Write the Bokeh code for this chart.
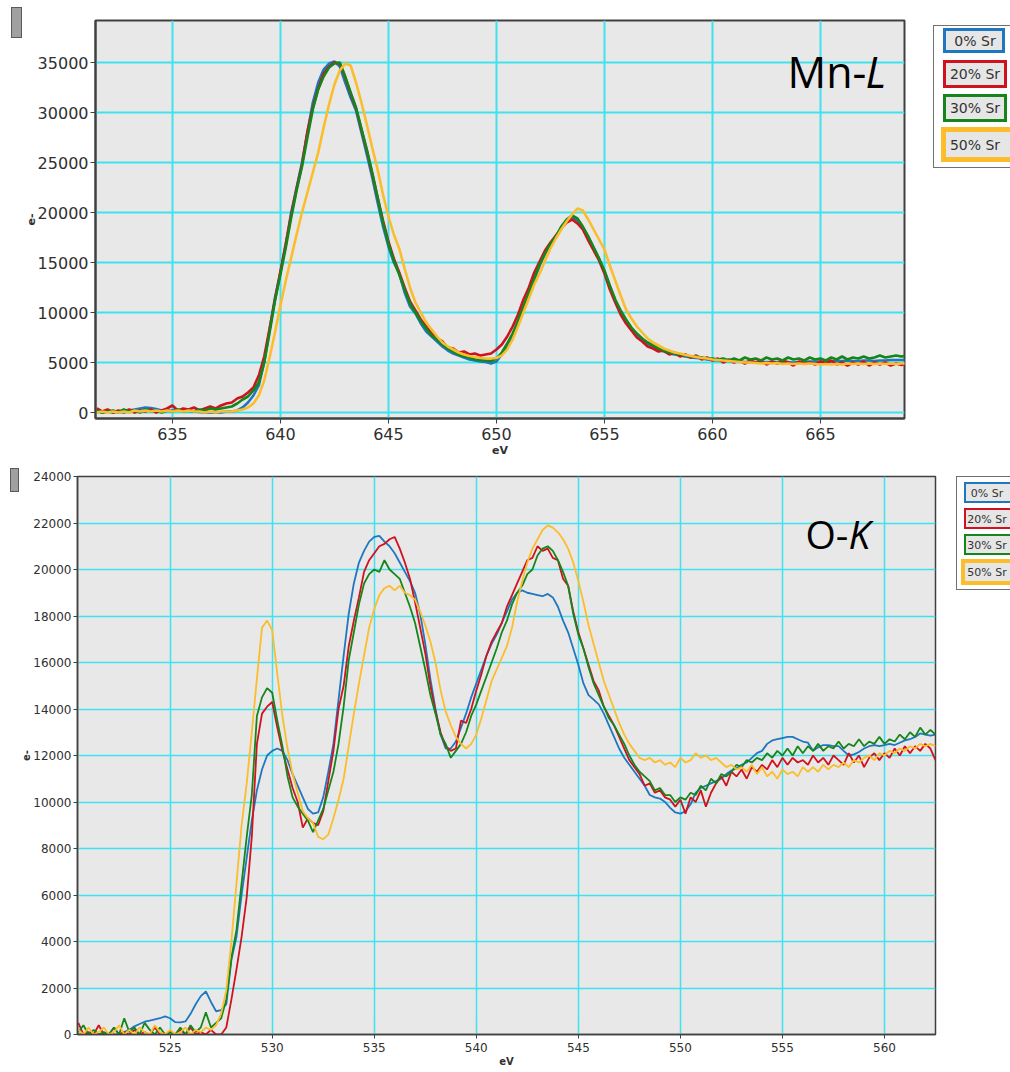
import numpy as np
from bokeh.plotting import figure
from bokeh.models import (FixedTicker, Label, Range1d, BasicTickFormatter, Div)
from bokeh.layouts import column, row
from bokeh.embed import file_html
from bokeh.resources import INLINE

# ---------------------------------------------------------------- data
series_names = ["0% Sr", "20% Sr", "30% Sr", "50% Sr"]
series_colors = ["#1f77c0", "#d0121e", "#14861a", "#fbbd2b"]

# Mn-L edge, sampled every 0.25 eV starting at 631.5 eV
mn_start, mn_step = 631.5, 0.25
mn_sr0 = [100, 0,
          100, 0, 100, 0,
          200, 300, 400, 500,
          450, 350, 200, 150,
          200, 250, 200, 150,
          100, 50, 0, 0,
          0, 0, 100, 100,
          200, 500, 1000, 1700,
          2700, 5000, 8300, 11500,
          14000, 16800, 20000, 22500,
          25000, 28000, 31000, 33000,
          34300, 34900, 35100, 34600,
          33000, 31500, 30200, 28000,
          25800, 23500, 21000, 18600,
          16600, 15000, 13900, 12000,
          10600, 9900, 8900, 8100,
          7600, 7100, 6600, 6200,
          5900, 5700, 5500, 5300,
          5200, 5100, 5050, 4900,
          5100, 5800, 6700, 7700,
          9000, 10500, 11900, 13300,
          14700, 15900, 16800, 17500,
          18500, 19100, 19500, 19200,
          18500, 17600, 16500, 15400,
          14100, 12600, 11200, 10100,
          9200, 8400, 7800, 7300,
          6900, 6600, 6300, 6100,
          5900, 5800, 5700, 5600,
          5500, 5450, 5400, 5300,
          5250, 5200, 5200, 5150,
          5100, 5100, 5050, 5050,
          5050, 5000, 5050, 5050,
          5050, 5100, 5050, 5000,
          5050, 5050, 5100, 5100,
          5100, 5100, 5100, 5150,
          5150, 5200, 5150, 5150,
          5200, 5200, 5150, 5200,
          5200, 5250, 5250, 5250,
          5250]
mn_sr20 = [400, 100,
           300, 0, 200, 100,
           300, 0, 200, 100,
           300, 0, 200, 400,
           700, 200, 400, 300,
           500, 200, 400, 600,
           400, 700, 900, 1000,
           1400, 1600, 2000, 2500,
           3700, 5600, 8400, 11300,
           14100, 16900, 19800, 22400,
           24800, 28100, 30500, 32400,
           33900, 34600, 35000, 34900,
           33500, 31900, 30400, 28300,
           26200, 23900, 21500, 19200,
           17100, 15400, 14000, 12500,
           11100, 10200, 9300, 8600,
           7900, 7400, 7100, 6500,
           6400, 6000, 6100, 5800,
           5900, 5700, 5800, 5900,
           6300, 6800, 7600, 8600,
           9800, 11300, 12500, 14000,
           15100, 16200, 17000, 17700,
           18400, 19000, 19300, 18900,
           18300, 17200, 16200, 15200,
           13900, 12300, 11000, 9800,
           8900, 8200, 7500, 7100,
           6600, 6400, 6100, 6200,
           5800, 6000, 5600, 5800,
           5500, 5700, 5300, 5500,
           5200, 5400, 5000, 5300,
           5000, 5200, 4900, 5200,
           5000, 5200, 4800, 5100,
           4900, 5200, 5000, 4700,
           5100, 4900, 5000, 4800,
           5100, 4900, 5200, 4800,
           5000, 4700, 5000, 4800,
           5100, 4700, 5000, 4800,
           5000, 4700, 4900, 4750,
           4900]
mn_sr30 = [200, 0,
           100, 200, 0, 300,
           100, 200, 0, 300,
           100, 200, 0, 200,
           100, 300, 100, 200,
           100, 300, 200, 400,
           300, 400, 500, 600,
           900, 1300, 1600, 2200,
           3000, 5000, 8000, 11200,
           13800, 16500, 19500, 22200,
           24600, 27500, 30300, 32300,
           33600, 34500, 34900, 35000,
           33600, 32000, 30500, 28400,
           26300, 24000, 21500, 19000,
           16900, 15200, 13800, 12300,
           10900, 10000, 9100, 8400,
           7700, 7300, 6800, 6400,
           6100, 5800, 5600, 5500,
           5300, 5250, 5200, 5150,
           5400, 6000, 6900, 7900,
           9200, 10600, 12000, 13400,
           14800, 15900, 16900, 17600,
           18600, 19300, 19700, 19400,
           18600, 17600, 16500, 15400,
           14200, 12700, 11300, 10200,
           9300, 8500, 7900, 7400,
           7000, 6700, 6400, 6200,
           6000, 5900, 5800, 5700,
           5600, 5600, 5500, 5400,
           5400, 5300, 5400, 5200,
           5400, 5200, 5500, 5300,
           5400, 5200, 5500, 5300,
           5400, 5200, 5500, 5300,
           5400, 5200, 5500, 5300,
           5400, 5200, 5500, 5300,
           5600, 5300, 5500, 5400,
           5600, 5400, 5500, 5700,
           5500, 5600, 5700, 5600,
           5700]
mn_sr50 = [0, 100,
           0, 100, 0, 100,
           0, 200, 100, 200,
           100, 200, 100, 200,
           100, 200, 100, 200,
           100, 100, 0, 100,
           0, 100, 100, 100,
           200, 300, 500, 900,
           1700, 3200, 5500, 8000,
           10700, 13200, 15500, 17800,
           20000, 22000, 24000, 26000,
           28500, 30800, 32800, 34200,
           34900, 34700, 33000, 31000,
           28800, 26500, 24300, 21800,
           19600, 17800, 16400, 14400,
           12500, 11000, 10000, 9000,
           8300, 7600, 7000, 6600,
           6300, 6000, 5800, 5650,
           5550, 5450, 5400, 5400,
           5450, 5700, 6300, 7300,
           8600, 10000, 11400, 12800,
           13900, 15200, 16400, 17400,
           18300, 19100, 19800, 20400,
           20200, 19300, 18300, 17300,
           16300, 14700, 13200, 11700,
           10300, 9400, 8600, 8000,
           7400, 7000, 6700, 6400,
           6200, 6000, 5900, 5750,
           5650, 5550, 5450, 5400,
           5300, 5250, 5200, 5150,
           5100, 5050, 5000, 5000,
           4950, 4900, 4950, 4900,
           4950, 4850, 4900, 4850,
           4900, 4850, 4900, 4850,
           4800, 4850, 4800, 4850,
           4800, 4900, 4850, 4900,
           4850, 4900, 4850, 4900,
           4850, 4900, 4850, 4900,
           4900]

# O-K edge, sampled every 0.25 eV starting at 520.5 eV
ok_start, ok_step = 520.5, 0.25
ok_sr0 = [0, 0,
          0, 0, 0, 0,
          0, 0, 0, 100,
          200, 350, 450, 550,
          600, 650, 700, 780,
          700, 530, 520, 560,
          890, 1300, 1650, 1850,
          1400, 1000, 1050, 1300,
          3200, 4200, 6000, 7600,
          9200, 10500, 11400, 12000,
          12200, 12300, 12200, 11800,
          11200, 10700, 10200, 9700,
          9500, 9550, 10200, 11300,
          12500, 14400, 16300, 18100,
          19400, 20300, 20800, 21200,
          21400, 21450, 21200, 21000,
          20700, 20300, 19900, 19500,
          19000, 18100, 16800, 15300,
          14000, 12900, 12300, 12300,
          12600, 13200, 13800, 14500,
          15100, 15700, 16300, 16800,
          17200, 17700, 18200, 18700,
          19000, 19100, 19000, 18950,
          18900, 18850, 18950, 18800,
          18400, 17800, 17300, 16600,
          15900, 15100, 14600, 14400,
          14200, 13800, 13300, 12800,
          12300, 11900, 11600, 11300,
          11000, 10700, 10300, 10200,
          10150, 10000, 9750, 9550,
          9500, 9600, 9900, 10400,
          10600, 10700, 10800, 10900,
          11000, 11200, 11350, 11450,
          11600, 11700, 11900, 12100,
          12200, 12500, 12650, 12700,
          12750, 12800, 12800, 12700,
          12600, 12550, 12200, 12350,
          12450, 12450, 12400, 12400,
          12200, 12000, 12050, 12150,
          12300, 12400, 12450, 12400,
          12450, 12500, 12450, 12550,
          12650, 12700, 12800, 12950,
          12900, 12850, 12900]
ok_sr20 = [500, 0,
           100, 0, 400, 0,
           0, 300, 0, 100,
           0, 200, 0, 100,
           0, 300, 0, 0,
           100, 0, 200, 0,
           300, 0, 100, 0,
           200, 0, 0, 300,
           1500, 2800, 4200, 5900,
           8500, 12500, 13800, 14100,
           14300, 13200, 12200, 11400,
           10600, 10000, 8900, 9300,
           9100, 9000, 9600, 10900,
           12200, 14000, 15000, 16700,
           17800, 18800, 19900, 20400,
           20700, 21000, 21100, 21300,
           21400, 20900, 20300, 19600,
           18600, 17500, 16400, 15000,
           13900, 13000, 12400, 12200,
           12300, 13500, 13400, 14000,
           14800, 15500, 16300, 16900,
           17300, 17700, 18400, 18900,
           19400, 19900, 20400, 20500,
           21000, 20800, 20900, 20500,
           20400, 19600, 19300, 18200,
           17300, 16600, 15900, 15200,
           14800, 14100, 13700, 13300,
           12800, 12300, 11800, 11500,
           11200, 10700, 10800, 10400,
           10500, 10200, 10100, 9800,
           10100, 9500, 10200, 10000,
           10500, 9800, 10400, 10800,
           11100, 10700, 11300, 11100,
           11400, 11000, 11500, 11300,
           11600, 11400, 11800, 11500,
           11900, 11600, 11900, 11700,
           11800, 11600, 12000, 11700,
           11900, 11600, 12000, 11800,
           11600, 12100, 11700, 12000,
           11500, 11900, 12100, 11800,
           12100, 11900, 12300, 12000,
           12400, 12100, 12400, 12200,
           12500, 12300, 11800]
ok_sr30 = [100, 400,
           0, 200, 0, 100,
           0, 300, 0, 700,
           100, 300, 0, 500,
           200, 0, 300, 0,
           100, 0, 300, 0,
           400, 100, 300, 950,
           300, 500, 700, 1500,
           3300, 4500, 6500, 8500,
           10300, 13700, 14500, 14900,
           14700, 13500, 12400, 11100,
           10200, 9800, 9500, 9200,
           8700, 9200, 9700, 10500,
           11300, 12500, 14100, 16100,
           17300, 18500, 19400, 19800,
           20000, 19900, 20400, 20000,
           19800, 19600, 19000, 18400,
           17700, 16700, 15700, 14600,
           13800, 12900, 12500, 11900,
           12200, 12500, 13000, 13700,
           14200, 14800, 15400, 16000,
           16600, 17300, 17800, 18500,
           19000, 19300, 19800, 20000,
           20600, 20900, 21000, 20800,
           20400, 19900, 19300, 18100,
           17200, 16600, 15800, 15100,
           14600, 14100, 13600, 13300,
           12900, 12500, 12000, 11600,
           11300, 11100, 10900, 10500,
           10600, 10300, 10300, 10000,
           10200, 10100, 10400, 10300,
           10700, 10500, 11000, 10800,
           11200, 11100, 11300, 11600,
           11500, 11800, 11700, 11900,
           11800, 12100, 11900, 12200,
           12000, 12300, 12000, 12400,
           12100, 12400, 12200, 12500,
           12200, 12400, 12300, 12600,
           12300, 12500, 12400, 12700,
           12400, 12600, 12500, 12800,
           12500, 12700, 12600, 12900,
           12700, 13000, 12800, 13200,
           12900, 13100, 12900]
ok_sr50 = [200, 0,
           300, 0, 100, 300,
           0, 100, 400, 0,
           200, 0, 300, 100,
           0, 400, 100, 0,
           200, 0, 100, 300,
           0, 200, 100, 300,
           200, 400, 900, 1900,
           4000, 6500, 9000, 10800,
           13000, 15300, 17500, 17800,
           17400, 15500, 13700, 12300,
           11200, 10400, 9600, 9300,
           9100, 8500, 8400, 8600,
           9300, 10100, 11000, 12400,
           13800, 15100, 16300, 17500,
           18300, 18900, 19200, 19300,
           19100, 19300, 19000, 18900,
           18700, 18200, 17600, 16900,
           16000, 14800, 13900, 13300,
           12800, 12500, 12300, 12500,
           12900, 13600, 14400, 15200,
           15700, 16200, 16700, 17500,
           18600, 19500, 20300, 20900,
           21300, 21700, 21900, 21800,
           21600, 21300, 20900, 20300,
           19500, 18600, 17600, 16800,
           16000, 15200, 14600, 14000,
           13400, 12900, 12500, 12200,
           11900, 11800, 11900, 11700,
           11800, 11600, 11700, 11500,
           11900, 11700, 11800, 12100,
           11900, 12000, 11800, 11900,
           11700, 11500, 11600, 11400,
           11500, 11300, 11600, 11200,
           11500, 11100, 11300, 11000,
           11400, 11200, 11300, 11100,
           11500, 11300, 11500, 11300,
           11600, 11400, 11600, 11500,
           11700, 11500, 11800, 11700,
           11900, 12000, 11800, 12100,
           12000, 12200, 12100, 12300,
           12200, 12400, 12300, 12500,
           12400, 12500, 12400]

mn_ticks_x = [635, 640, 645, 650, 655, 660, 665]
mn_ticks_y = [0, 5000, 10000, 15000, 20000, 25000, 30000, 35000]
ok_ticks_x = [525, 530, 535, 540, 545, 550, 555, 560]
ok_ticks_y = [0, 2000, 4000, 6000, 8000, 10000, 12000, 14000, 16000,
              18000, 20000, 22000, 24000]

mn_series = [mn_sr0, mn_sr20, mn_sr30, mn_sr50]
ok_series = [ok_sr0, ok_sr20, ok_sr30, ok_sr50]
for s in mn_series:
    assert len(s) == len(mn_sr0), len(s)
for s in ok_series:
    assert len(s) == len(ok_sr0), len(s)

mn_energy = mn_start + mn_step * np.arange(len(mn_sr0))
ok_energy = ok_start + ok_step * np.arange(len(ok_sr0))

# ---------------------------------------------------------------- styling
GRID = "#3fe3ef"
AXIS = "#404040"
PLOTBG = "#e8e8e8"
FONT = "DejaVu Sans"


def style_axes(p, tick_px, lab_px, grid_w, axis_w, tick_out):
    for ax in (p.xaxis[0], p.yaxis[0]):
        ax.major_label_text_font = FONT
        ax.major_label_text_font_size = tick_px
        ax.major_label_text_color = "#303030"
        ax.axis_label_text_font = FONT
        ax.axis_label_text_font_size = lab_px
        ax.axis_label_text_font_style = "bold"
        ax.axis_label_text_color = "#303030"
        ax.axis_line_color = AXIS
        ax.axis_line_width = axis_w
        ax.major_tick_line_color = AXIS
        ax.major_tick_out = tick_out
        ax.major_tick_in = 0
        ax.minor_tick_out = 0
        ax.minor_tick_in = 0
    p.xaxis.axis_label = "eV"
    p.yaxis.axis_label = "e-"
    p.yaxis.formatter = BasicTickFormatter(use_scientific=False)
    p.xaxis.major_label_standoff = 4
    p.xaxis.axis_label_standoff = 1
    p.yaxis.major_label_standoff = 2
    p.yaxis.axis_label_standoff = 0
    p.xgrid.grid_line_color = GRID
    p.ygrid.grid_line_color = GRID
    p.xgrid.grid_line_width = grid_w
    p.ygrid.grid_line_width = grid_w
    p.outline_line_color = AXIS
    p.outline_line_width = axis_w
    p.outline_line_alpha = 1.0


def slabel(p, x, y, text, size, style="normal"):
    p.add_layout(Label(x=x, y=y, x_units="screen", y_units="screen",
                       text=text, text_font="Open Sans", text_font_size=size,
                       text_font_style=style, text_color="black",
                       text_align="left", text_baseline="alphabetic"))


def handle_div(w, h, left, top, bw, bh):
    html = ('<div style="position:relative;width:%dpx;height:%dpx;overflow:hidden;">'
            '<div style="position:absolute;left:%dpx;top:%dpx;width:%dpx;height:%dpx;'
            'box-sizing:border-box;background:#a0a0a0;border:1px solid #5a5a5a;"></div>'
            '</div>') % (w, h, left, top, bw, bh)
    return Div(text=html, width=w, height=h, margin=0)


def legend_div(w, h, outer, boxes, text_x, font_px):
    parts = ['<div style="position:relative;width:%dpx;height:%dpx;overflow:hidden;">' % (w, h)]
    ol, ot, ow, oh = outer
    parts.append('<div style="position:absolute;left:%dpx;top:%dpx;width:%dpx;height:%dpx;'
                 'box-sizing:border-box;background:white;border:1px solid #707070;"></div>'
                 % (ol, ot, ow, oh))
    for (bl, bt, bw, bh, lw), col in zip(boxes, series_colors):
        parts.append('<div style="position:absolute;left:%dpx;top:%dpx;width:%dpx;height:%dpx;'
                     'box-sizing:border-box;background:#e6e6e6;border:%dpx solid %s;"></div>'
                     % (bl, bt, bw, bh, lw, col))
    for (bl, bt, bw, bh, lw), name in zip(boxes, series_names):
        parts.append('<span style="position:absolute;left:%dpx;top:%.1fpx;'
                     'transform:translate(-50%%,-50%%);white-space:nowrap;line-height:1;'
                     'font-family:\'DejaVu Sans\';font-size:%dpx;color:#333333;">%s</span>'
                     % (text_x, bt + bh / 2.0, font_px, name))
    parts.append('</div>')
    return Div(text="".join(parts), width=w, height=h, margin=0)


# ---------------------------------------------------------------- Mn-L panel
p1 = figure(width=907, height=462, output_backend="svg", toolbar_location=None,
            x_range=Range1d(631.44, 668.89), y_range=Range1d(-600, 39200),
            min_border_left=72, min_border_right=26, min_border_top=20,
            min_border_bottom=44, background_fill_color=PLOTBG,
            border_fill_color="white")
p1.xaxis.ticker = FixedTicker(ticks=mn_ticks_x)
p1.yaxis.ticker = FixedTicker(ticks=mn_ticks_y)
style_axes(p1, "16px", "11px", 2, 2, 5)

for vals, col in zip(mn_series, series_colors):
    p1.line(mn_energy, vals, line_color=col, line_width=2.6)

slabel(p1, 692, 347, "Mn-", "43px")
slabel(p1, 770, 347, "L", "43px", style="italic")

top_left = handle_div(23, 462, 11, 7, 11, 31)
top_legend = legend_div(80, 462, (3, 25, 100, 143),
                        [(13, 28, 62, 25, 3), (13, 60, 64, 28, 3),
                         (13, 94, 64, 28, 3), (11, 127, 90, 35, 5)],
                        45, 14)

# ---------------------------------------------------------------- O-K panel
p2 = figure(width=931, height=610, output_backend="svg", toolbar_location=None,
            x_range=Range1d(520.46, 562.5), y_range=Range1d(0, 24000),
            min_border_left=54, min_border_right=15, min_border_top=14,
            min_border_bottom=38, background_fill_color=PLOTBG,
            border_fill_color="white")
p2.xaxis.ticker = FixedTicker(ticks=ok_ticks_x)
p2.yaxis.ticker = FixedTicker(ticks=ok_ticks_y)
style_axes(p2, "12px", "10px", 1.5, 1.5, 4)

for vals, col in zip(ok_series, series_colors):
    p2.line(ok_energy, vals, line_color=col, line_width=1.8)

slabel(p2, 728, 501, "O-", "39px")
slabel(p2, 771, 501, "K", "39px", style="italic")

bot_left = handle_div(19, 610, 10, 6, 9, 24)
bot_legend = legend_div(60, 610, (6, 14, 80, 114),
                        [(14, 20, 70, 21, 2), (14, 46, 70, 21, 2),
                         (14, 72, 70, 21, 2), (11, 97, 70, 26, 4)],
                        37, 11)

layout = column(row(top_left, p1, top_legend, spacing=0),
                row(bot_left, p2, bot_legend, spacing=0), spacing=0)
open("out.html", "w").write(file_html(layout, INLINE))
